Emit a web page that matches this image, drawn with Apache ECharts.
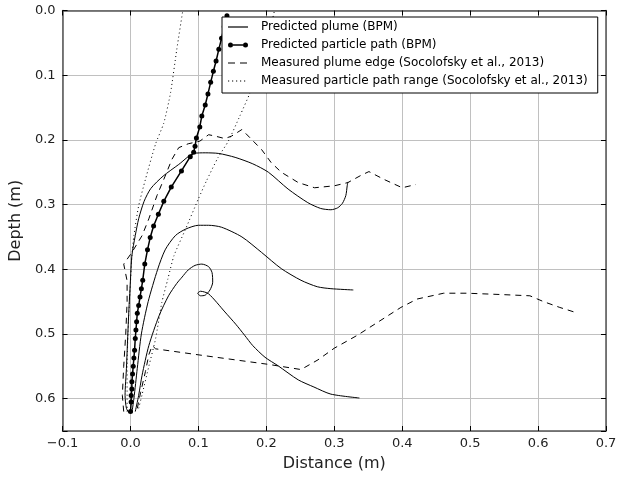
<!DOCTYPE html>
<html>
<head>
<meta charset="utf-8">
<script src="https://cdn.jsdelivr.net/npm/echarts@6/dist/echarts.min.js"></script>
<style>html,body{margin:0;padding:0;background:#fff;}#c{width:620px;height:477px;}</style>
</head>
<body>
<div id="c"></div>
<script>
// ---- data: [distance (m), depth (m)] ----
const xTickLabels = ['\u22120.1','0.0','0.1','0.2','0.3','0.4','0.5','0.6','0.7'];
const yTickLabels = ['0.0','0.1','0.2','0.3','0.4','0.5','0.6'];

const plumeUpper = [[-0.002,0.622],[-0.006,0.615],[-0.008,0.595],[-0.006,0.553],[-0.003,0.477],[0.000,0.415],[0.002,0.379],[0.007,0.348],[0.012,0.322],[0.020,0.295],[0.030,0.275],[0.048,0.256],[0.071,0.238],[0.093,0.221],[0.110,0.220],[0.130,0.221],[0.154,0.227],[0.180,0.237],[0.203,0.250],[0.232,0.276],[0.261,0.297],[0.280,0.306],[0.295,0.308],[0.305,0.305],[0.312,0.298],[0.317,0.286],[0.319,0.271],[0.320,0.265]];
const plumeMiddle = [[0.002,0.622],[0.005,0.600],[0.010,0.553],[0.016,0.500],[0.026,0.450],[0.040,0.400],[0.051,0.370],[0.066,0.348],[0.081,0.338],[0.100,0.332],[0.115,0.332],[0.134,0.335],[0.164,0.350],[0.193,0.374],[0.222,0.399],[0.251,0.417],[0.275,0.427],[0.295,0.430],[0.328,0.432]];
const plumeLower = [[0.007,0.620],[0.012,0.595],[0.017,0.564],[0.027,0.518],[0.042,0.472],[0.056,0.441],[0.068,0.422],[0.076,0.412],[0.085,0.401],[0.095,0.394],[0.105,0.392],[0.115,0.396],[0.120,0.405],[0.121,0.420],[0.117,0.432],[0.110,0.440],[0.103,0.441],[0.099,0.437],[0.103,0.434],[0.115,0.438],[0.139,0.466],[0.155,0.485],[0.168,0.502],[0.180,0.518],[0.198,0.536],[0.217,0.549],[0.247,0.571],[0.270,0.582],[0.295,0.593],[0.337,0.599]];

const particlePath = [[0.000,0.620],[0.001,0.605],[0.001,0.595],[0.002,0.585],[0.002,0.574],[0.003,0.562],[0.004,0.550],[0.005,0.537],[0.006,0.525],[0.007,0.507],[0.008,0.494],[0.009,0.481],[0.010,0.468],[0.012,0.456],[0.014,0.443],[0.016,0.430],[0.018,0.417],[0.021,0.392],[0.025,0.370],[0.029,0.351],[0.034,0.333],[0.041,0.315],[0.049,0.295],[0.060,0.273],[0.075,0.248],[0.088,0.226],[0.093,0.219],[0.095,0.210],[0.097,0.197],[0.102,0.180],[0.105,0.163],[0.110,0.146],[0.114,0.129],[0.118,0.111],[0.122,0.094],[0.126,0.078],[0.130,0.060],[0.134,0.043],[0.138,0.025],[0.142,0.008]];

const edgeUpper = [[-0.010,0.620],[-0.012,0.595],[-0.010,0.550],[-0.007,0.500],[-0.005,0.450],[-0.005,0.418],[-0.010,0.392],[0.002,0.374],[0.017,0.348],[0.027,0.322],[0.039,0.286],[0.051,0.256],[0.061,0.230],[0.071,0.212],[0.085,0.206],[0.102,0.202],[0.115,0.192],[0.124,0.194],[0.139,0.198],[0.149,0.194],[0.164,0.184],[0.178,0.199],[0.193,0.215],[0.207,0.235],[0.222,0.250],[0.247,0.266],[0.271,0.274],[0.300,0.271],[0.320,0.266],[0.339,0.255],[0.351,0.249],[0.373,0.261],[0.400,0.274],[0.420,0.269]];
const edgeLower = [[0.010,0.615],[0.015,0.590],[0.022,0.558],[0.027,0.532],[0.032,0.518],[0.037,0.523],[0.105,0.533],[0.203,0.547],[0.251,0.555],[0.276,0.540],[0.300,0.522],[0.334,0.502],[0.398,0.459],[0.422,0.446],[0.461,0.437],[0.495,0.437],[0.544,0.439],[0.588,0.441],[0.608,0.450],[0.632,0.459],[0.656,0.467]];

const rangeLeft = [[-0.005,0.620],[-0.005,0.550],[-0.003,0.480],[0.000,0.420],[0.002,0.380],[0.005,0.348],[0.012,0.302],[0.022,0.261],[0.037,0.206],[0.049,0.174],[0.059,0.127],[0.068,0.061],[0.077,0.000]];
const rangeRight = [[0.012,0.615],[0.017,0.594],[0.027,0.550],[0.037,0.507],[0.046,0.452],[0.055,0.415],[0.064,0.379],[0.081,0.338],[0.100,0.291],[0.112,0.263],[0.129,0.227],[0.144,0.202],[0.161,0.163],[0.176,0.127],[0.190,0.085],[0.203,0.040],[0.212,0.000]];

const names = ['Predicted plume (BPM)','Predicted particle path (BPM)','Measured plume edge (Socolofsky et al., 2013)','Measured particle path range (Socolofsky et al., 2013)'];

const FONT = 'DejaVu Sans';
function lbl(arr, min){
  return function(v){
    const i = Math.round((v - min)/0.1);
    if (Math.abs(v - (min + i*0.1)) > 1e-6) return '';
    return arr[i] === undefined ? '' : arr[i];
  };
}
function lineSeries(name, data, type, smooth){
  return {name:name, type:'line', data:data, xAxisIndex:0, yAxisIndex:0,
    symbol:'none', showSymbol:false, smooth:smooth || false, animation:false,
    lineStyle:{color:'#000', width:1, type:type}, itemStyle:{color:'#000'}, z:3};
}
const gridLine = {show:true, lineStyle:{color:'#c0c0c0', width:1}};
const axLine = {show:true, onZero:false, lineStyle:{color:'#555', width:1.5}};
const tick = {show:true, inside:true, length:5, lineStyle:{color:'#000', width:1}};

const option = {
  backgroundColor:'#fff',
  animation:false,
  grid:{left:60, right:14, top:10.5, bottom:43.5, containLabel:false},
  xAxis:[
    {type:'value', min:-0.1, max:0.7, interval:0.1, position:'bottom',
     axisLine:axLine, axisTick:tick, splitLine:gridLine,
     axisLabel:{formatter:lbl(xTickLabels,-0.1), fontFamily:FONT, fontSize:13, color:'#222', margin:6},
     name:'Distance (m)', nameLocation:'middle', nameGap:25,
     nameTextStyle:{fontFamily:FONT, fontSize:16, color:'#222'}},
    {type:'value', min:-0.1, max:0.7, interval:0.1, position:'top',
     axisLine:axLine, axisTick:tick, splitLine:{show:false}, axisLabel:{show:false}}
  ],
  yAxis:[
    {type:'value', min:0, max:0.65, interval:0.1, inverse:true, position:'left',
     axisLine:axLine, axisTick:tick, splitLine:gridLine,
     axisLabel:{formatter:lbl(yTickLabels,0), fontFamily:FONT, fontSize:13, color:'#222', margin:7},
     name:'Depth (m)', nameLocation:'middle', nameGap:34,
     nameTextStyle:{fontFamily:FONT, fontSize:16, color:'#222'}},
    {type:'value', min:0, max:0.65, interval:0.1, inverse:true, position:'right',
     axisLine:axLine, axisTick:tick, splitLine:{show:false}, axisLabel:{show:false}}
  ],
  legend:{
    orient:'vertical', left:222, top:17,
    padding:[4,10,6,6], itemGap:6, itemWidth:20, itemHeight:12,
    backgroundColor:'#fff', borderColor:'#000', borderWidth:1, borderRadius:0,
    textStyle:{fontFamily:FONT, fontSize:12, color:'#000', padding:[0,0,0,8]},
    selectedMode:false, z:10,
    data:[
      {name:names[0], icon:'path://M0,0L20,0L20,1.2L0,1.2Z'},
      {name:names[1], icon:'path://M0,3a3,3 0 1,0 6,0a3,3 0 1,0 -6,0Z M18,3a3,3 0 1,0 6,0a3,3 0 1,0 -6,0Z M6,2.2L18,2.2L18,3.8L6,3.8Z'},
      {name:names[2], icon:'path://M0,0L7,0L7,1.2L0,1.2Z M12,0L19,0L19,1.2L12,1.2Z M19,0L20,0L20,0.01L19,0.01Z'},
      {name:names[3], icon:'path://M0,0L1.2,0L1.2,1.2L0,1.2Z M4,0L5.2,0L5.2,1.2L4,1.2Z M8,0L9.2,0L9.2,1.2L8,1.2Z M12,0L13.2,0L13.2,1.2L12,1.2Z M16,0L17.2,0L17.2,1.2L16,1.2Z M18.8,0L20,0L20,0.01L18.8,0.01Z'}
    ]
  },
  series:[
    lineSeries(names[0], plumeUpper, 'solid', 0.25),
    lineSeries(names[0], plumeMiddle, 'solid', 0.25),
    lineSeries(names[0], plumeLower, 'solid', 0.25),
    {name:names[1], type:'line', data:particlePath, xAxisIndex:0, yAxisIndex:0,
     symbol:'circle', symbolSize:5, showSymbol:true, animation:false,
     lineStyle:{color:'#000', width:1.5}, itemStyle:{color:'#000', borderWidth:0}, z:4},
    lineSeries(names[2], edgeUpper, [6,5]),
    lineSeries(names[2], edgeLower, [6,5]),
    lineSeries(names[3], rangeLeft, [1,3], 0.2),
    lineSeries(names[3], rangeRight, [1,3], 0.2)
  ]
};
const chart = echarts.init(document.getElementById('c'), null, {renderer:'canvas'});
chart.setOption(option);
</script>
</body>
</html>
